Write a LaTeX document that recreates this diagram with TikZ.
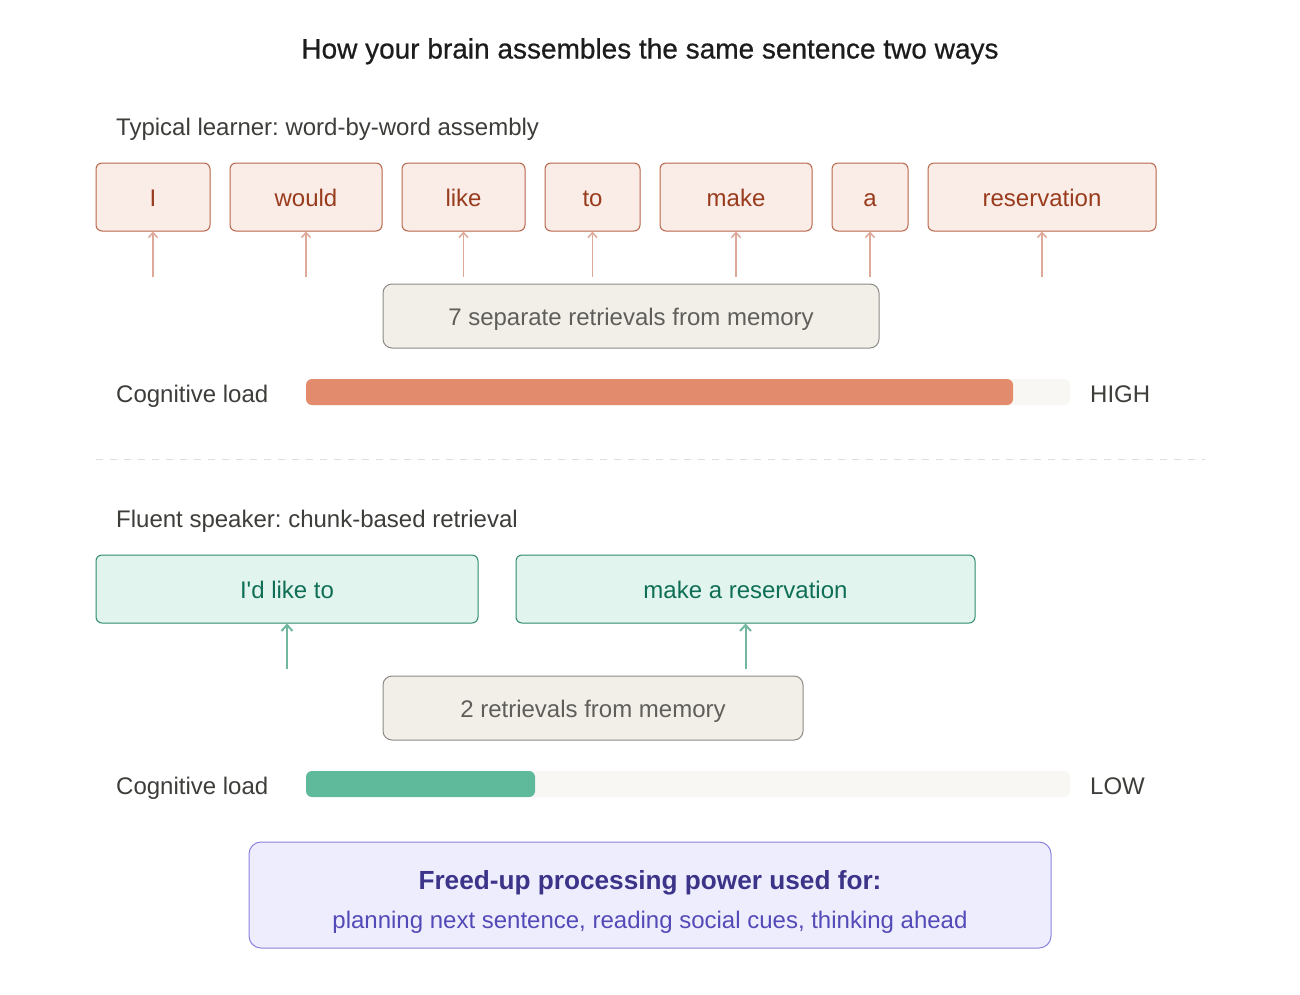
\documentclass[tikz,border=0pt]{standalone}
\usepackage{fontspec}
\setmainfont{Liberation Sans}
\newfontfamily\titlefont[FakeBold=0.6]{Liberation Sans}
\usetikzlibrary{arrows.meta}
\frenchspacing
\definecolor{titlec}{HTML}{1C1C1C}
\definecolor{bodyc}{HTML}{3D3D3A}
\definecolor{wfill}{HTML}{FAECE7}
\definecolor{wdraw}{HTML}{B8654A}
\definecolor{wtext}{HTML}{993C1D}
\definecolor{warrow}{HTML}{DFA99A}
\definecolor{gfill}{HTML}{F1EFE8}
\definecolor{gdraw}{HTML}{8C8B85}
\definecolor{gtext}{HTML}{5F5E5A}
\definecolor{obar}{HTML}{E38B6D}
\definecolor{track}{HTML}{F8F7F3}
\definecolor{cfill}{HTML}{E1F5EE}
\definecolor{cdraw}{HTML}{2E8A6C}
\definecolor{ctext}{HTML}{0F6E56}
\definecolor{carrow}{HTML}{72B7A0}
\definecolor{cbar}{HTML}{5EBA9A}
\definecolor{pfill}{HTML}{EEEDFE}
\definecolor{pdraw}{HTML}{8A82DD}
\definecolor{ptextA}{HTML}{3C3489}
\definecolor{ptextB}{HTML}{534AB7}
\definecolor{dashc}{HTML}{DEDDD8}
\tikzset{
  txt/.style={font=\frenchspacing\fontsize{24}{28}\selectfont, inner sep=0pt, text height=19pt, text depth=0pt},
  lbl/.style={txt, anchor=west, text=bodyc},
  wordbox/.style={txt, draw=wdraw, fill=wfill, text=wtext, line width=1pt, rounded corners=6pt, minimum height=68pt},
  chunkbox/.style={txt, draw=cdraw, fill=cfill, text=ctext, line width=1pt, rounded corners=6pt, minimum height=68pt},
  retbox/.style={txt, draw=gdraw, fill=gfill, text=gtext, line width=1pt, rounded corners=9pt, minimum height=64pt},
  warr/.style={draw=warrow, line width=1.5pt, -{Straight Barb[length=5pt,width=9pt]}},
  carr/.style={draw=carrow, line width=2pt, -{Straight Barb[length=6pt,width=11pt]}},
}
\begin{document}
\begin{tikzpicture}[x=1pt,y=-1pt]
\path[use as bounding box, fill=white] (0,0) rectangle (1300,994);
% title
\node[font=\titlefont\fontsize{28}{32}\selectfont, text=titlec, inner sep=0pt, text height=21pt, text depth=0pt] (title) at (650,48) {How your brain assembles the same sentence two ways};
% section 1
\node[lbl] (lab1) at (116,126) {Typical learner: word-by-word assembly};
\node[wordbox, minimum width=114pt] (w1) at (153,197) {I};
\node[wordbox, minimum width=152pt] (w2) at (306,197) {would};
\node[wordbox, minimum width=123pt] (w3) at (463.5,197) {like};
\node[wordbox, minimum width=95pt] (w4) at (592.5,197) {to};
\node[wordbox, minimum width=152pt] (w5) at (736,197) {make};
\node[wordbox, minimum width=76pt] (w6) at (870,197) {a};
\node[wordbox, minimum width=228pt] (w7) at (1042,197) {reservation};
\coordinate (s1) at (153,277);
\coordinate (s2) at (306,277);
\coordinate (s3) at (463.5,277);
\coordinate (s4) at (592.5,277);
\coordinate (s5) at (736,277);
\coordinate (s6) at (870,277);
\coordinate (s7) at (1042,277);
\foreach \i in {1,...,7} {\draw[warr] (s\i) -- (w\i.south);}
\node[retbox, minimum width=496pt] (r1) at (631,316) {7 separate retrievals from memory};
\node[lbl] (cl1) at (116,393) {Cognitive load};
\fill[track, rounded corners=6pt] (306,379) rectangle (1070,405);
\fill[obar, rounded corners=6pt] (306,379) rectangle (1013,405);
\node[lbl] (high) at (1090,393) {HIGH};
% divider
\coordinate (d1) at (96,459);
\coordinate (d2) at (1205,459);
\draw[dashc, line width=1pt, dash pattern=on 7pt off 7pt] (d1) -- (d2);
% section 2
\node[lbl] (lab2) at (116,518) {Fluent speaker: chunk-based retrieval};
\node[chunkbox, minimum width=382pt] (c1) at (287,589) {I\textquotesingle d like to};
\node[chunkbox, minimum width=459pt] (c2) at (745.5,589) {make a reservation};
\coordinate (t1) at (287,669);
\coordinate (t2) at (745.5,669);
\draw[carr] (t1) -- (c1.south);
\draw[carr] (t2) -- (c2.south);
\node[retbox, minimum width=420pt] (r2) at (593,708) {2 retrievals from memory};
\node[lbl] (cl2) at (116,785) {Cognitive load};
\fill[track, rounded corners=6pt] (306,771) rectangle (1070,797);
\fill[cbar, rounded corners=6pt] (306,771) rectangle (535,797);
\node[lbl] (low) at (1090,785) {LOW};
% bottom box
\node[draw=pdraw, fill=pfill, line width=1pt, rounded corners=12pt, minimum width=802pt, minimum height=106pt, inner sep=0pt] (freed) at (650,895) {};
\node[font=\fontsize{26.2}{30}\selectfont\bfseries, text=ptextA, inner sep=0pt, text height=19.5pt, text depth=0pt] (f1) at (650,880) {Freed-up processing power used for:};
\node[txt, text=ptextB] (f2) at (650,919) {planning next sentence, reading social cues, thinking ahead};
\end{tikzpicture}
\end{document}
